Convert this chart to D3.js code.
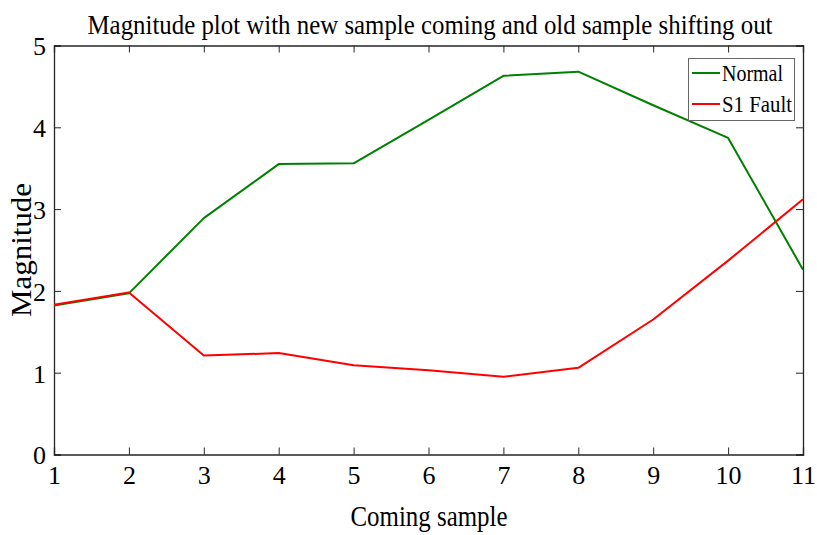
<!DOCTYPE html>
<html>
<head>
<meta charset="utf-8">
<script src="https://cdn.jsdelivr.net/npm/d3@7"></script>
<style>
  body { margin: 0; background: #fff; }
  svg text { font-family: "Liberation Serif", "DejaVu Serif", serif; fill: #000; }
</style>
</head>
<body>
<div id="chart"></div>
<script>
// chart data
var samples = [1, 2, 3, 4, 5, 6, 7, 8, 9, 10, 11];
var normal = [1.82, 1.97, 2.89, 3.55, 3.56, 4.09, 4.63, 4.68, 4.27, 3.87, 2.26];
var s1Fault = [1.83, 1.98, 1.21, 1.24, 1.09, 1.03, 0.95, 1.06, 1.65, 2.37, 3.12];
var xTicks = [1, 2, 3, 4, 5, 6, 7, 8, 9, 10, 11];
var yTicks = [0, 1, 2, 3, 4, 5];
var seriesNames = ["Normal", "S1 Fault"];
var seriesColors = ["#008000", "#ff0000"];

(function() {
  var width = 817, height = 535;
  var margin = {top: 45.5, right: 14, bottom: 80.5, left: 54};
  var w = width - margin.left - margin.right;
  var h = height - margin.top - margin.bottom;

  var svg = d3.select("#chart").append("svg")
    .attr("width", width)
    .attr("height", height);

  var g = svg.append("g")
    .attr("transform", "translate(" + margin.left + "," + margin.top + ")");

  var x = d3.scaleLinear().domain([1, 11]).range([0, w]);
  var y = d3.scaleLinear().domain([0, 5]).range([h, 0]);

  var axisColor = "#262626";
  var tickLen = 7;

  // axes with inward ticks on all four sides
  var axBottom = g.append("g").attr("transform", "translate(0," + h + ")")
    .call(d3.axisBottom(x).tickValues(xTicks).tickSize(-tickLen).tickPadding(11).tickFormat(d3.format("d")));
  var axTop = g.append("g")
    .call(d3.axisTop(x).tickValues(xTicks).tickSize(-tickLen).tickFormat(""));
  var axLeft = g.append("g")
    .call(d3.axisLeft(y).tickValues(yTicks).tickSize(-tickLen).tickPadding(8).tickFormat(d3.format("d")));
  var axRight = g.append("g").attr("transform", "translate(" + w + ",0)")
    .call(d3.axisRight(y).tickValues(yTicks).tickSize(-tickLen).tickFormat(""));

  [axBottom, axTop, axLeft, axRight].forEach(function(a) {
    a.select(".domain").attr("stroke", axisColor).attr("stroke-width", 1.3);
    a.selectAll(".tick line").attr("stroke", axisColor).attr("stroke-width", 1);
    a.selectAll("text").style("font-size", "26px").attr("fill", "#000");
  });
  axBottom.selectAll("text").attr("dy", "0.71em");
  axLeft.selectAll("text").attr("dy", "0.36em");

  // lines
  var line = d3.line()
    .x(function(d, i) { return x(samples[i]); })
    .y(function(d) { return y(d); });

  [normal, s1Fault].forEach(function(series, k) {
    g.append("path")
      .datum(series)
      .attr("fill", "none")
      .attr("stroke", seriesColors[k])
      .attr("stroke-width", 2)
      .attr("stroke-linejoin", "round")
      .attr("d", line);
  });

  // title and axis labels
  svg.append("text")
    .attr("x", 430).attr("y", 34)
    .attr("text-anchor", "middle")
    .attr("textLength", 685).attr("lengthAdjust", "spacingAndGlyphs")
    .style("font-size", "28px")
    .text("Magnitude plot with new sample coming and old sample shifting out");

  svg.append("text")
    .attr("x", 429).attr("y", 526)
    .attr("text-anchor", "middle")
    .attr("textLength", 157).attr("lengthAdjust", "spacingAndGlyphs")
    .style("font-size", "29px")
    .text("Coming sample");

  svg.append("text")
    .attr("transform", "translate(31,250) rotate(-90)")
    .attr("text-anchor", "middle")
    .attr("textLength", 134).attr("lengthAdjust", "spacingAndGlyphs")
    .style("font-size", "29px")
    .text("Magnitude");

  // legend
  var legend = svg.append("g");
  legend.append("rect")
    .attr("x", 688.5).attr("y", 58.5)
    .attr("width", 106).attr("height", 62)
    .attr("fill", "#fff")
    .attr("stroke", "#666")
    .attr("stroke-width", 1);

  seriesNames.forEach(function(name, k) {
    var ly = 73 + k * 31;
    legend.append("line")
      .attr("x1", 692).attr("x2", 720)
      .attr("y1", ly).attr("y2", ly)
      .attr("stroke", seriesColors[k])
      .attr("stroke-width", 2);
    legend.append("text")
      .attr("x", 722).attr("y", ly + 8)
      .attr("textLength", name.length > 6 ? 70 : 61).attr("lengthAdjust", "spacingAndGlyphs")
      .style("font-size", "24px")
      .text(name);
  });
})();
</script>
</body>
</html>
